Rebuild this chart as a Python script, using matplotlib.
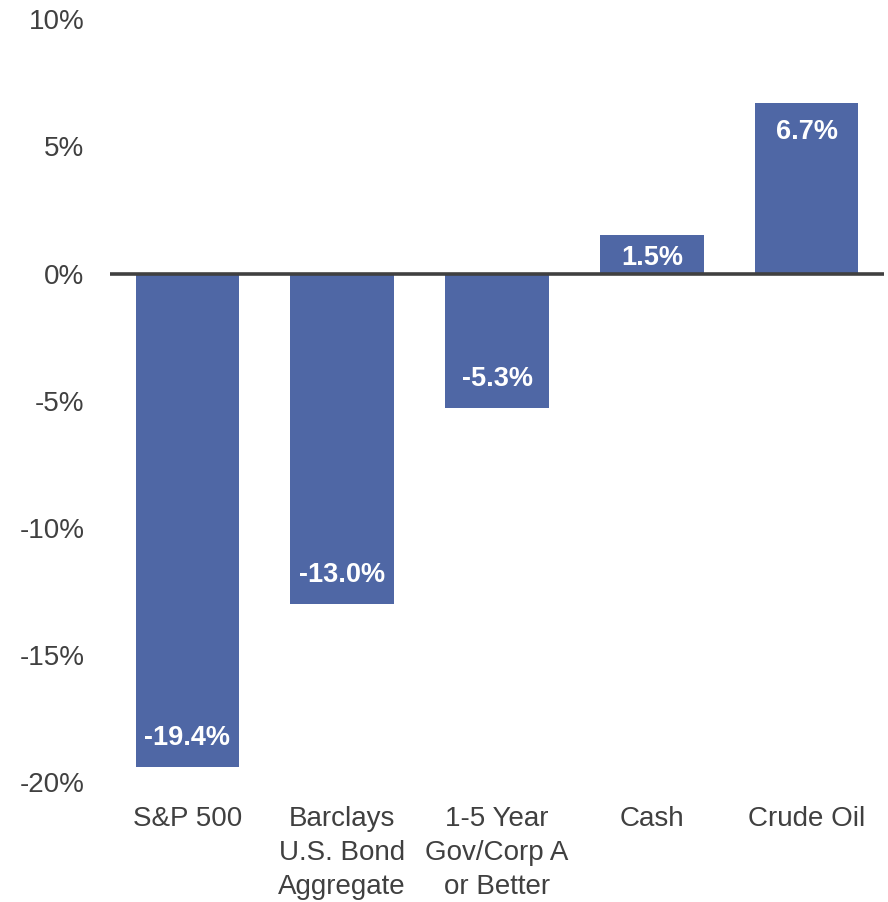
import matplotlib
matplotlib.use('Agg')
import matplotlib.pyplot as plt

# --- data ---
categorias = ["S&P 500", "Barclays\nU.S. Bond\nAggregate", "1-5 Year\nGov/Corp A\nor Better", "Cash", "Crude Oil"]
rendimientos = [-19.4, -13.0, -5.3, 1.5, 6.7]
ticks_y = [-20, -15, -10, -5, 0, 5, 10]

AZUL = '#4F67A5'
GRIS = '#404040'

plt.rcParams['font.family'] = ['Liberation Sans', 'DejaVu Sans']

fig = plt.figure(figsize=(8.88, 9.02), dpi=100)
ax = fig.add_axes([0.1239, 0.1331, 0.8716, 0.8455])

x = range(len(categorias))
barras = ax.bar(x, rendimientos, width=0.67, color=AZUL, zorder=2)
ax.axhline(0, color=GRIS, linewidth=2.6, zorder=3)

# etiquetas dentro del extremo de cada barra
for i, v in enumerate(rendimientos):
    alto_px = abs(v) * 25.4
    off = min(29, alto_px * 0.6) * 72 / 100
    dy = -off if v > 0 else off
    ax.annotate(f"{v:.1f}%", xy=(i, v), xytext=(0, dy), textcoords='offset points',
                ha='center', va='center', color='white', fontsize=19.5,
                fontweight='bold', zorder=4)

ax.set_xlim(-0.5, len(categorias) - 0.5)
ax.set_ylim(-20, 10)
ax.set_yticks(ticks_y)
ax.set_yticklabels([f"{t}%" for t in ticks_y])
ax.set_xticks(list(x))
ax.set_xticklabels(categorias, linespacing=1.4)

ax.tick_params(axis='y', length=0, pad=18.5, labelsize=20, labelcolor=GRIS)
ax.tick_params(axis='x', length=0, pad=17, labelsize=20, labelcolor=GRIS)
for s in ax.spines.values():
    s.set_visible(False)

plt.savefig('out.png', dpi=100)
plt.close()
